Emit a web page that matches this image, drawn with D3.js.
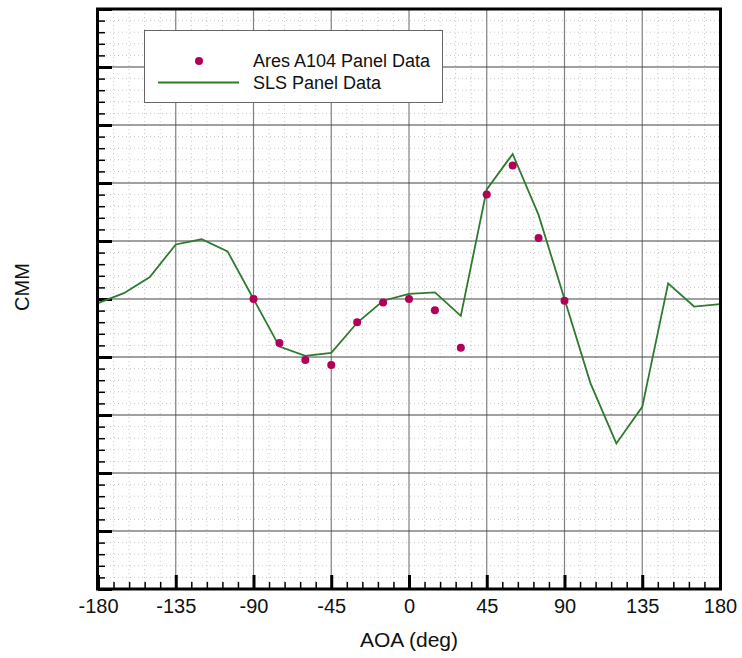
<!DOCTYPE html>
<html><head><meta charset="utf-8">
<script src="https://cdn.jsdelivr.net/npm/d3@7"></script>
<style>body{margin:0;background:#fff}svg{display:block}text{font-family:"Liberation Sans",Arial,Helvetica,sans-serif}</style>
</head><body>
<script>
// Data
const slsAoa = [-180,-165,-150,-135,-120,-105,-90,-75,-60,-45,-30,-15,0,15,30,45,60,75,90,105,120,135,150,165,180];
const slsCmm = [-0.07,0.1,0.38,0.94,1.03,0.82,0,-0.82,-0.98,-0.93,-0.41,-0.03,0.09,0.115,-0.29,1.89,2.5,1.45,0,-1.45,-2.49,-1.86,0.27,-0.13,-0.09];
const aresAoa = [-90,-75,-60,-45,-30,-15,0,15,30,45,60,75,90];
const aresCmm = [0,-0.76,-1.05,-1.14,-0.4,-0.06,0,-0.195,-0.84,1.8,2.3,1.05,-0.03];
const xTicks = [-180,-135,-90,-45,0,45,90,135,180];
const yMajor = [-5,-4,-3,-2,-1,0,1,2,3,4,5];
const legendLabels = ["Ares A104 Panel Data","SLS Panel Data"];

const W=742,H=658;
const L=98,R=720,T=9,B=589;
const x=d3.scaleLinear().domain([-180,180]).range([L,R]);
const y=d3.scaleLinear().domain([-5,5]).range([B,T]);
const svg=d3.select("body").append("svg").attr("width",W).attr("height",H);

const xMinor=d3.range(-180,180.01,9).filter(v=>v%45!==0);
const yMinor=d3.range(-5,5.001,0.2).map(v=>+v.toFixed(2)).filter(v=>Math.abs(v-Math.round(v))>1e-6);

// minor grid
const g=svg.append("g");
g.selectAll(".mx").data(xMinor).join("line").attr("x1",d=>x(d)).attr("x2",d=>x(d)).attr("y1",T).attr("y2",B)
 .attr("stroke","#c8c8c8").attr("stroke-width",1).attr("stroke-dasharray","1,3");
g.selectAll(".my").data(yMinor).join("line").attr("y1",d=>y(d)).attr("y2",d=>y(d)).attr("x1",L).attr("x2",R)
 .attr("stroke","#c8c8c8").attr("stroke-width",1).attr("stroke-dasharray","1,3");
// major grid
g.selectAll(".Mx").data(xTicks.slice(1,-1)).join("line").attr("x1",d=>x(d)).attr("x2",d=>x(d)).attr("y1",T).attr("y2",B)
 .attr("stroke","#808080").attr("stroke-width",1.2);
g.selectAll(".My").data(yMajor.slice(1,-1)).join("line").attr("y1",d=>y(d)).attr("y2",d=>y(d)).attr("x1",L).attr("x2",R)
 .attr("stroke","#444").attr("stroke-width",1.2);

// axes with inward ticks
const xAxis=svg.append("g").attr("transform",`translate(0,${B})`)
 .call(d3.axisBottom(x).tickValues(xTicks).tickSize(-14).tickPadding(10).tickFormat(d=>String(d)));
xAxis.select(".domain").remove();
xAxis.selectAll("line").attr("stroke","#000").attr("stroke-width",3);
xAxis.selectAll("text").attr("font-size",20).attr("fill","#111").attr("font-family","Liberation Sans, Arial, sans-serif");
svg.append("g").attr("transform",`translate(0,${B})`).call(d3.axisBottom(x).tickValues(xMinor).tickSize(-7).tickFormat(""))
 .call(a=>a.select(".domain").remove()).selectAll("line").attr("stroke","#000").attr("stroke-width",1.5);

const yAxis=svg.append("g").attr("transform",`translate(${L},0)`)
 .call(d3.axisLeft(y).tickValues(yMajor).tickSize(-14).tickFormat(""));
yAxis.select(".domain").remove();
yAxis.selectAll("line").attr("stroke","#000").attr("stroke-width",3);
svg.append("g").attr("transform",`translate(${L},0)`).call(d3.axisLeft(y).tickValues(yMinor).tickSize(-7).tickFormat(""))
 .call(a=>a.select(".domain").remove()).selectAll("line").attr("stroke","#000").attr("stroke-width",1.5);

// SLS line
const line=d3.line().x((d,i)=>x(slsAoa[i])).y(d=>y(d));
svg.append("path").datum(slsCmm).attr("d",line).attr("fill","none").attr("stroke","#2f7a2f").attr("stroke-width",1.8);
// Ares points
svg.selectAll(".pt").data(aresCmm).join("circle").attr("cx",(d,i)=>x(aresAoa[i])).attr("cy",d=>y(d)).attr("r",4)
 .attr("fill","#b0005a");

// frame
svg.append("rect").attr("x",L-0.5).attr("y",T).attr("width",R-L+1).attr("height",B-T)
 .attr("fill","none").attr("stroke","#000").attr("stroke-width",3);

// legend
const lg=svg.append("g");
lg.append("rect").attr("x",144.5).attr("y",30.5).attr("width",298).attr("height",72).attr("fill","#fff").attr("stroke","#666").attr("stroke-width",1);
lg.append("circle").attr("cx",199).attr("cy",61).attr("r",4).attr("fill","#b0005a");
lg.append("line").attr("x1",158).attr("x2",239).attr("y1",82.5).attr("y2",82.5).attr("stroke","#2f7a2f").attr("stroke-width",1.8);
lg.append("text").attr("x",253).attr("y",67).attr("font-size",18).attr("fill","#111").text(legendLabels[0]);
lg.append("text").attr("x",253).attr("y",89).attr("font-size",18).attr("fill","#111").text(legendLabels[1]);

// axis titles
svg.append("text").attr("x",409).attr("y",647).attr("text-anchor","middle").attr("font-size",21).attr("fill","#111").text("AOA (deg)");
svg.append("text").attr("transform","translate(29,287) rotate(-90)").attr("text-anchor","middle").attr("font-size",20).attr("fill","#111").text("CMM");
</script>
</body></html>
